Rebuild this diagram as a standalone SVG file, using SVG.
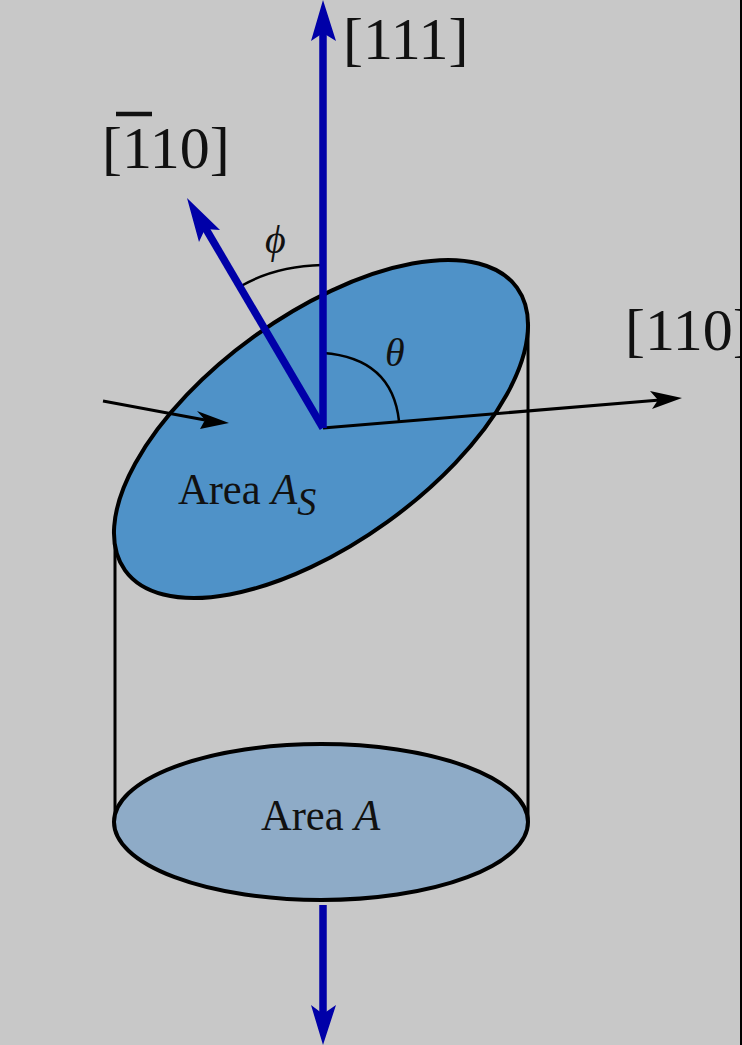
<svg xmlns="http://www.w3.org/2000/svg" width="742" height="1045" viewBox="0 0 742 1045">
<style>
.t{font-family:"Liberation Serif","Times New Roman",serif;fill:#111}
.i{font-style:italic}
.e{stroke:#000;stroke-width:4}
.c{fill:none;stroke:#000;stroke-width:3}
.a{fill:none;stroke:#000;stroke-width:2.5}
.b{fill:none;stroke:#0000a8;stroke-width:7.5}
.bh{fill:#0000a8}
</style>
<rect width="742" height="1045" fill="#c8c8c8"/>
<g id="cylinder-sides" class="c"><path d="M115 535V822M528 322V822"/></g>
<g id="bottom-ellipse"><ellipse class="e" cx="321" cy="822" rx="207" ry="78" fill="#8eabc7"/>
<text class="t" transform="translate(261 830) scale(1 1.05)" font-size="42.5">Area <tspan class="i">A</tspan></text></g>
<g id="top-ellipse"><ellipse class="e" cx="321" cy="429" rx="241.6" ry="114.2" transform="rotate(-35.8 321 429)" fill="#4f92c8"/>
<text class="t" transform="translate(178 504) scale(1 1.05)" font-size="42.5">Area <tspan class="i">A<tspan font-size="38" dy="10">S</tspan></tspan></text></g>
<g id="connectors">
<path class="a" d="M241 286Q276 266 322 265"/>
<path class="a" d="M323 353Q392 358 399 421"/>
<path class="c" d="M323 428L660 400"/>
<path d="M682 398L650 391L658 400L652 409Z"/>
<path class="c" d="M103 401L205 420"/>
<path d="M229 423L197 411L205 420L200 429Z"/>
<path class="b" d="M323 428L203 224"/>
<path class="bh" d="M187 198L220 230L205 229L199 242Z"/>
<path class="b" d="M323 428V30"/>
<path class="bh" d="M323 0L336 41L323 33L311 41Z"/>
<path class="b" d="M323 905V1015"/>
<path class="bh" d="M323 1045L311 1005L323 1014L336 1005Z"/>
</g>
<g id="labels">
<text class="t" x="343" y="59" font-size="60">[111]</text>
<text class="t" x="102" y="168" font-size="60">[110]</text>
<path d="M116 114H152" stroke="#111" stroke-width="4.5"/>
<text class="t" x="625" y="350" font-size="60">[110]</text>
<text class="t i" x="265" y="253" font-size="40">ϕ</text>
<text class="t i" x="385" y="366" font-size="40">θ</text>
</g>
<rect id="right-edge" x="740" width="2" height="1045" fill="#000"/>
</svg>
